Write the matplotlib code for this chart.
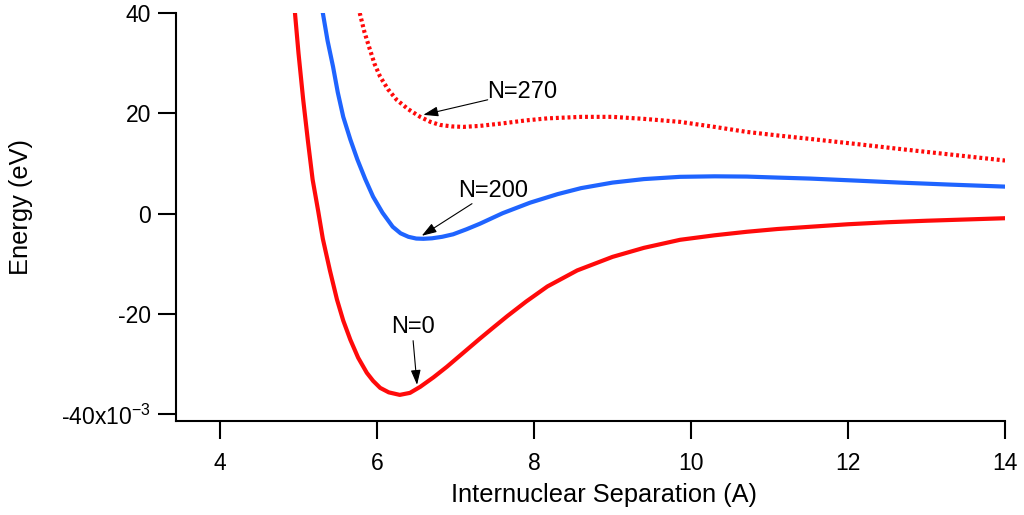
import matplotlib
matplotlib.use("Agg")
import matplotlib.pyplot as plt
from matplotlib.ticker import FixedLocator, FuncFormatter

plt.rcParams["font.family"] = ["Liberation Sans", "DejaVu Sans"]
plt.rcParams["mathtext.fontset"] = "custom"
plt.rcParams["mathtext.rm"] = "Liberation Sans"

# energies in units of 1e-3 eV, separation in Angstrom
x_n0 = [4.955, 5.0, 5.06, 5.12, 5.18, 5.25, 5.31, 5.40, 5.49, 5.57, 5.66,
        5.76, 5.87, 5.95, 6.04, 6.15, 6.29, 6.42, 6.55, 6.72, 6.89, 7.10,
        7.31, 7.48, 7.66, 7.9, 8.17, 8.55, 9.0, 9.4, 9.86, 10.3, 10.71,
        11.1, 11.52, 12.0, 12.5, 13.0, 13.5, 14.0]
y_n0 = [40.0, 32.0, 22.7, 14.5, 6.8, 0.6, -5.0, -11.3, -17.1, -21.3, -25.1,
        -28.7, -31.7, -33.3, -34.7, -35.6, -36.1, -35.7, -34.5, -32.6, -30.5,
        -27.7, -24.9, -22.7, -20.4, -17.5, -14.5, -11.3, -8.6, -6.8, -5.2,
        -4.3, -3.6, -3.05, -2.6, -2.1, -1.7, -1.4, -1.15, -0.9]

x_n200 = [5.31, 5.37, 5.44, 5.50, 5.57, 5.66, 5.75, 5.85, 5.95, 6.07, 6.20,
          6.30, 6.40, 6.50, 6.59, 6.70, 6.83, 6.97, 7.14, 7.31, 7.6, 7.95,
          8.3, 8.6, 9.0, 9.4, 9.86, 10.3, 10.71, 11.1, 11.52, 12.1, 12.66,
          13.3, 14.0]
y_n200 = [40.0, 34.5, 29.3, 24.2, 19.3, 14.8, 10.8, 6.9, 3.4, 0.2, -2.6,
          -3.9, -4.6, -4.95, -5.0, -4.9, -4.6, -4.1, -3.1, -2.0, 0.1, 2.2,
          3.9, 5.1, 6.2, 6.9, 7.35, 7.45, 7.4, 7.2, 7.0, 6.6, 6.2,
          5.8, 5.4]

x_n270 = [5.78, 5.84, 5.91, 5.97, 6.04, 6.14, 6.25, 6.40, 6.55, 6.68, 6.80,
          6.95, 7.10, 7.31, 7.6, 7.9, 8.17, 8.6, 9.0, 9.4, 9.86, 10.3,
          10.71, 11.1, 11.52, 12.1, 12.66, 13.3, 14.0]
y_n270 = [40.0, 36.2, 32.7, 29.8, 27.3, 24.8, 22.7, 20.8, 19.3, 18.3, 17.7,
          17.4, 17.3, 17.5, 18.0, 18.6, 19.0, 19.3, 19.3, 18.9, 18.3, 17.3,
          16.3, 15.6, 14.9, 13.9, 12.9, 11.8, 10.6]

yticks = [-40, -20, 0, 20, 40]
xticks = [4, 6, 8, 10, 12, 14]

RED = "#ff0a0a"
BLUE = "#1f64ff"

fig = plt.figure(figsize=(10.24, 5.15), dpi=100)
ax = fig.add_axes([0.1719, 0.1816, 0.8096, 0.7932])

ax.plot(x_n0, y_n0, color=RED, lw=3, solid_joinstyle="round")
ax.plot(x_n200, y_n200, color=BLUE, lw=3, solid_joinstyle="round")
ax.plot(x_n270, y_n270, color=RED, lw=3, linestyle=(0, (0.7, 0.7)))

ax.set_xlim(3.44, 14.0)
ax.set_ylim(-41.4, 40.0)

for s in ("top", "right"):
    ax.spines[s].set_visible(False)
for s in ("left", "bottom"):
    ax.spines[s].set_linewidth(1.5)

ax.xaxis.set_major_locator(FixedLocator(xticks))
ax.yaxis.set_major_locator(FixedLocator(yticks))


def yfmt(v, pos):
    if v == -40:
        return r"-40x10$^{\mathregular{-3}}$"
    return f"{v:g}"


ax.yaxis.set_major_formatter(FuncFormatter(yfmt))
ax.tick_params(direction="out", length=13, width=1.5, labelsize=16.5)
ax.tick_params(axis="x", pad=9)
ax.tick_params(axis="y", pad=5)

ax.set_xlabel("Internuclear Separation (A)", fontsize=18.3)
ax.set_ylabel("Energy (eV)", fontsize=18.3)
ax.xaxis.set_label_coords(0.516, -0.150)
ax.yaxis.set_label_coords(-0.172, 0.525)

arrow = dict(arrowstyle="-|>,head_length=0.9,head_width=0.3", color="black",
             lw=0.8, shrinkA=0, shrinkB=0)
ax.annotate("", xy=(6.59, 19.7), xytext=(7.41, 22.7), arrowprops=arrow)
ax.text(7.85, 24.3, "N=270", fontsize=17, ha="center", va="center")
ax.annotate("", xy=(6.57, -4.4), xytext=(7.21, 2.0), arrowprops=arrow)
ax.text(7.48, 4.6, "N=200", fontsize=17, ha="center", va="center")
ax.annotate("", xy=(6.51, -34.1), xytext=(6.46, -25.3), arrowprops=arrow)
ax.text(6.46, -22.5, "N=0", fontsize=17, ha="center", va="center")

fig.savefig("out.png", dpi=100)
